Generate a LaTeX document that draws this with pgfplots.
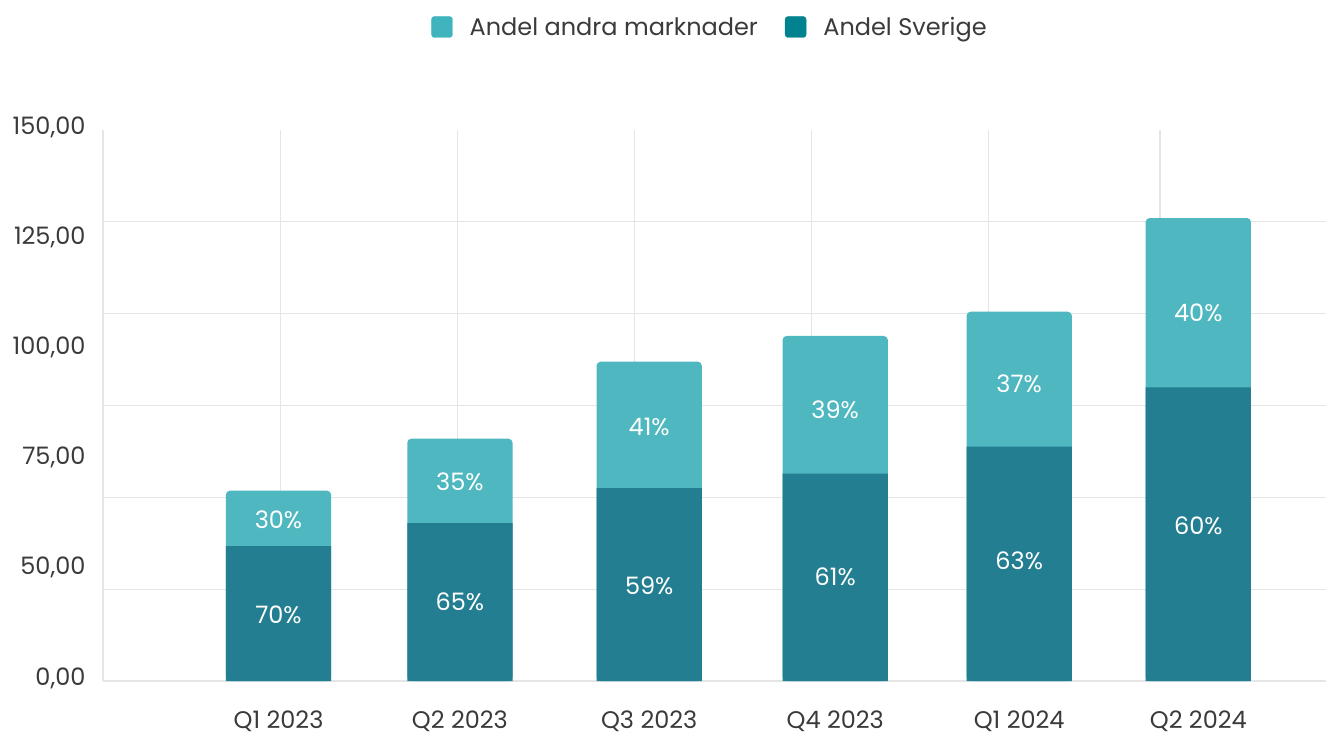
\documentclass[border=0pt]{standalone}
\usepackage{pgfplots}
\pgfplotsset{compat=1.18}
\usepackage{fontspec}
\setmainfont{Poppins}
\definecolor{barLight}{HTML}{4EB7C0}
\definecolor{barDark}{HTML}{237E91}
\definecolor{lgLight}{HTML}{3FB4BE}
\definecolor{lgDark}{HTML}{01828E}
\definecolor{gridgray}{HTML}{E5E5E5}
\definecolor{txtgray}{HTML}{3A3A3A}
\begin{document}
\begin{tikzpicture}
\path[use as bounding box] (0pt,0pt) rectangle (1326pt,734pt);
\begin{axis}[
  at={(103pt,53pt)}, anchor=south west,
  scale only axis, width=1223pt, height=551pt,
  xmin=103, xmax=1326, ymin=0, ymax=150,
  axis lines=left, axis line style={draw=gridgray, line width=1.3pt, -},
  major tick length=0pt,
  xtick={278.5,459.9,649.2,835.2,1019.2,1198.3},
  xticklabels={Q1 2023,Q2 2023,Q3 2023,Q4 2023,Q1 2024,Q2 2024},
  ytick={0,30,60,90,120,150},
  yticklabels={{0,00},{50,00},{75,00},{100,00},{125,00},{150,00}},
  extra x ticks={280.5,457.7,634.3,811.7,988.3,1160},
  extra x tick labels={},
  extra x tick style={grid=major},
  extra y ticks={25,50,75,100,125},
  extra y tick labels={},
  extra y tick style={grid=major},
  grid style={draw=gridgray, line width=1.3pt},
  tick label style={font=\fontsize{24}{28}\selectfont, text=txtgray},
  xticklabel style={anchor=center, inner sep=0pt, yshift=-40pt},
  yticklabel style={anchor=east, xshift=-14pt, yshift=3pt},
  clip=false,
  legend style={at={(0.4963,1.187)}, anchor=center, draw=none, fill=none,
    font=\fontsize{24}{28}\selectfont, text=txtgray, legend columns=2,
    /tikz/every odd column/.append style={column sep=15pt},
    /tikz/every even column/.append style={column sep=25pt}},
  legend cell align=left,
]
\addplot[ybar, bar width=105.3, bar shift=0pt, fill=barLight, draw=none, rounded corners=4pt, forget plot]
  coordinates {(278.5,51.8) (459.9,65.96) (649.2,86.92) (835.2,93.92) (1019.2,100.53) (1198.3,126.04)};
\addplot[ybar, bar width=105.3, bar shift=0pt, fill=barDark, draw=none, forget plot]
  coordinates {(278.5,36.75) (459.9,43.01) (649.2,52.54) (835.2,56.43) (1019.2,63.78) (1198.3,79.95)};
\addplot[draw=none, mark=none, forget plot, point meta=explicit symbolic,
  nodes near coords, every node near coord/.style={anchor=center, text=white, font=\fontsize{24}{28}\selectfont}]
  coordinates {
   (278.5,17.97) [70\%] (459.9,21.51) [65\%] (649.2,25.86) [59\%]
   (835.2,28.31) [61\%] (1019.2,32.67) [63\%] (1198.3,42.20) [60\%]
   (278.5,43.83) [30\%] (459.9,54.25) [35\%] (649.2,69.10) [41\%]
   (835.2,73.73) [39\%] (1019.2,80.81) [37\%] (1198.3,100.26) [40\%]
  };
\addlegendimage{legend image code/.code={\fill[lgLight, rounded corners=3pt] (0pt,-10.5pt) rectangle (21pt,10.5pt);}}
\addlegendentry{Andel andra marknader}
\addlegendimage{legend image code/.code={\fill[lgDark, rounded corners=3pt] (0pt,-10.5pt) rectangle (21pt,10.5pt);}}
\addlegendentry{Andel Sverige}
\end{axis}
\end{tikzpicture}
\end{document}
